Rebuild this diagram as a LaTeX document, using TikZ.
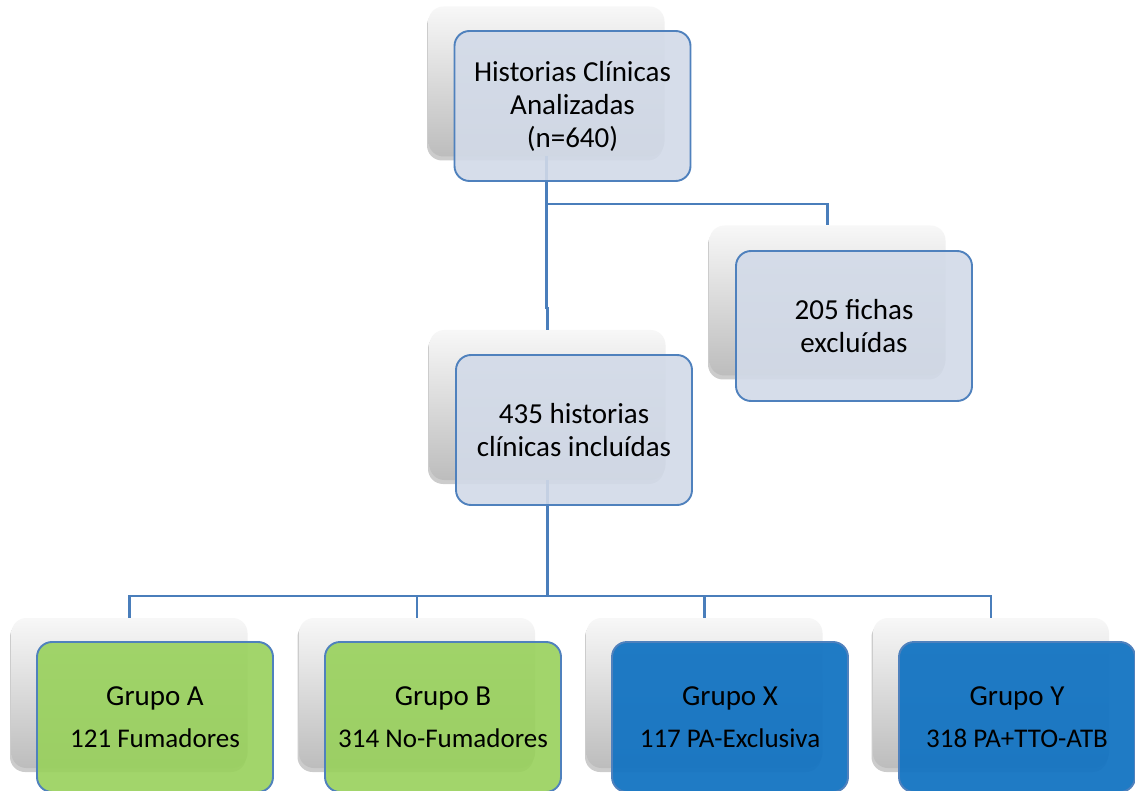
\documentclass[tikz,border=0pt]{standalone}
\usepackage{fontspec}
\setmainfont{Carlito}
\usetikzlibrary{shadows,calc}
\definecolor{bordc}{HTML}{4F81BD}
\definecolor{lightf}{HTML}{D2DAE8}
\definecolor{greenf}{HTML}{98D15B}
\definecolor{bluef}{HTML}{1474C2}
\definecolor{linec}{HTML}{4A7EBB}
\tikzset{
  backbox/.style={rectangle, rounded corners=15pt, minimum width=236pt, minimum height=150pt, inner sep=0pt, outer sep=0pt,
    top color=white!97!black, middle color=white!93!black, bottom color=white!74!black,
    drop shadow={shadow xshift=-1.5pt, shadow yshift=-4pt, opacity=0.2, fill=black}},
  frontbox/.style={rectangle, rounded corners=15pt, minimum width=236pt, minimum height=150pt, inner sep=0pt, outer sep=0pt,
    draw=bordc, line width=1.9pt, fill opacity=0.9, text opacity=1, align=center, text=black,
    font=\fontsize{29}{33}\selectfont},
  lightbox/.style={frontbox, fill=lightf},
  greenbox/.style={frontbox, fill=greenf},
  bluebox/.style={frontbox, fill=bluef, fill opacity=0.95},
  conn/.style={draw=linec, line width=2.1pt}
}
\newcommand{\subl}{\fontsize{27}{33}\selectfont}
\begin{document}
\begin{tikzpicture}[x=1pt,y=-1pt]
\useasboundingbox[fill=white] (0,0) rectangle (1135,791);
% back boxes
\node[backbox] (ts) at (546.5,81.5) {};
\node[backbox] (es) at (827.5,300.5) {};
\node[backbox] (ms) at (547.5,405) {};
\node[backbox] (as) at (129.5,693) {};
\node[backbox] (bs) at (417,693) {};
\node[backbox] (xs) at (704.5,693) {};
\node[backbox] (ys) at (991,693) {};
% connectors
\coordinate (j) at (546.5,308);
\coordinate (br) at (546.5,204);
\coordinate (hy) at (0,596);
\draw[conn] (ts.south) -- (j) -| (ms.north);
\draw[conn] (br) -| (es.north);
\draw[conn] (ms.south) -- (ms.south |- hy) coordinate (hub);
\draw[conn] (hub) -| (as.north);
\draw[conn] (hub) -| (bs.north);
\draw[conn] (hub) -| (xs.north);
\draw[conn] (hub) -| (ys.north);
% front boxes
\node[lightbox] (t) at (572.5,106) {Historias Clínicas\\Analizadas\\(n=640)};
\node[lightbox] (e) at (854,326) {205 fichas\\excluídas};
\node[lightbox] (m) at (574,430) {435 historias\\clínicas incluídas};
\node[greenbox] (a) at (155,717) {Grupo A\\[9pt]\subl 121 Fumadores};
\node[greenbox] (b) at (443,717) {Grupo B\\[9pt]\subl 314 No-Fumadores};
\node[bluebox] (x) at (730,717) {Grupo X\\[9pt]\subl 117 PA-Exclusiva};
\node[bluebox] (y) at (1017,717) {Grupo Y\\[9pt]\subl 318 PA+TTO-ATB};
\end{tikzpicture}
\end{document}
